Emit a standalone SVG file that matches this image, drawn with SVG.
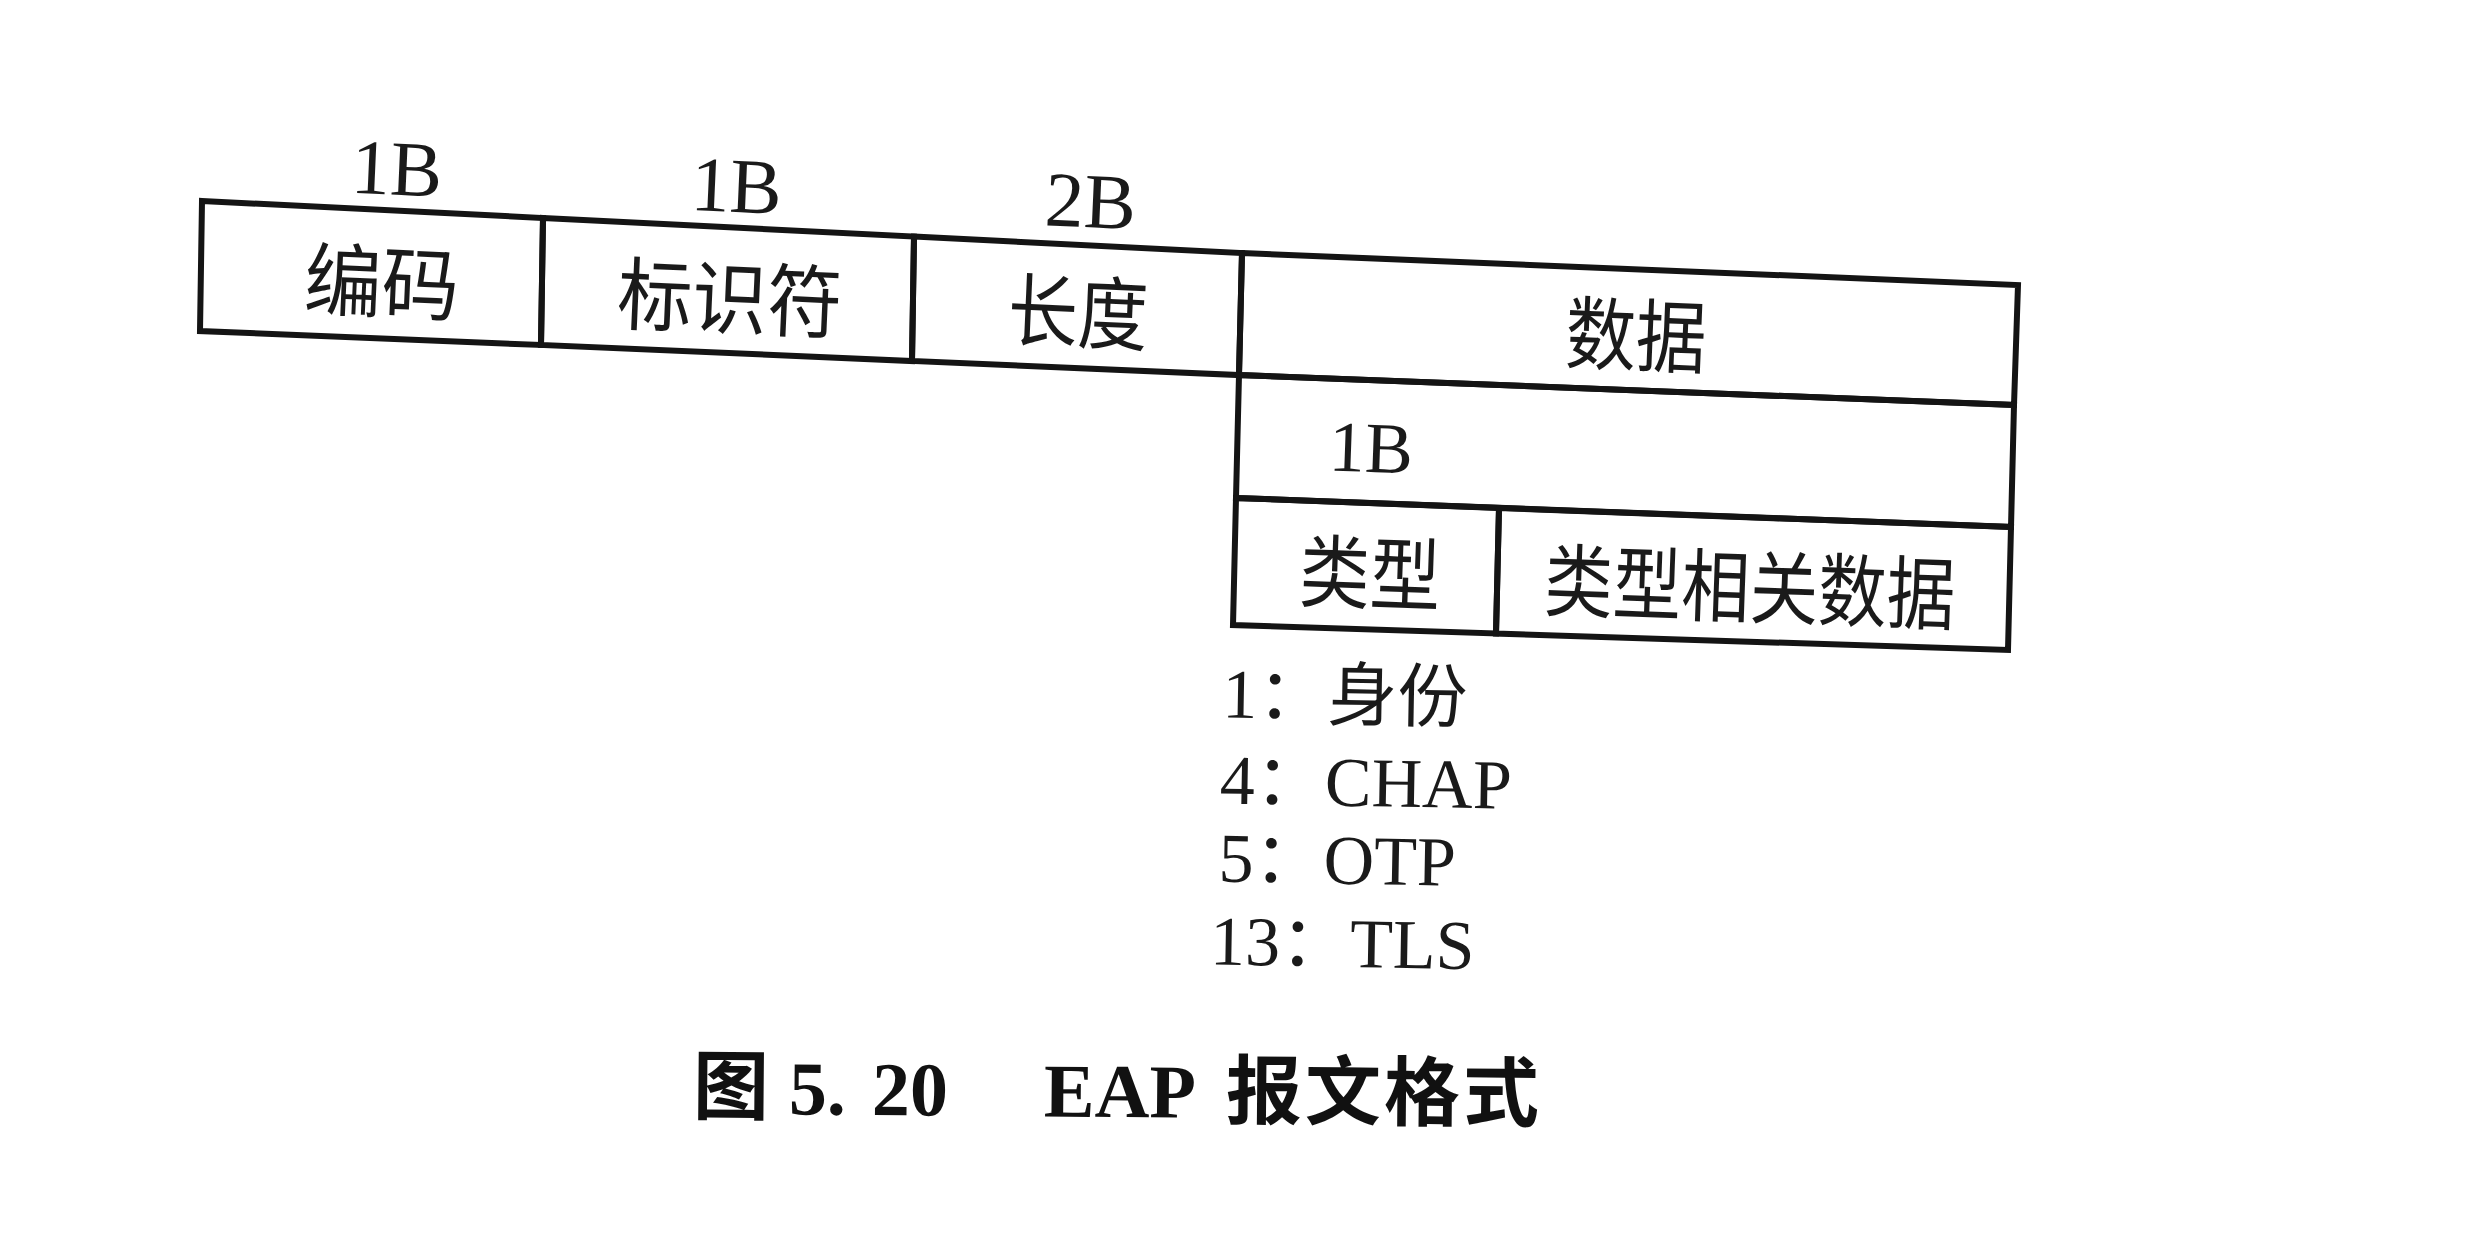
<svg xmlns="http://www.w3.org/2000/svg" width="2477" height="1233" viewBox="0 0 2477 1233">
<style>
.cell{fill:none;stroke:#141414;stroke-width:6;stroke-linejoin:miter}
.cjk{font-family:"Noto Sans CJK SC","Noto Sans CJK JP",sans-serif;font-size:80px;fill:#1a1a1a;text-anchor:middle}
.lat{font-family:"Liberation Serif","Noto Sans CJK SC",serif;font-size:78px;fill:#1a1a1a}
.lat2{font-family:"Liberation Serif","Noto Sans CJK SC",serif;font-size:72px;fill:#1a1a1a}
.mix{font-family:"Liberation Serif","Noto Sans CJK SC",serif;font-size:70px;fill:#1a1a1a}
.cap{font-family:"Liberation Serif","Noto Sans CJK SC",serif;font-size:76px;font-weight:bold;fill:#111}
</style>
<rect width="2477" height="1233" fill="#ffffff"/>
<g id="connectors"/>
<g id="field-code">
<polygon class="cell" points="202,201 543,218 541,345 200,331"/>
<text class="lat" x="351" y="195" transform="rotate(2.5 400 175)">1B</text>
<text class="cjk" x="382" y="312" textLength="155" lengthAdjust="spacingAndGlyphs" transform="rotate(2.5 382 280)">编码</text>
</g>
<g id="field-identifier">
<polygon class="cell" points="543,218 914,236.6 912,361 541,345"/>
<text class="lat" x="691" y="212" transform="rotate(2.5 738 186)">1B</text>
<text class="cjk" x="730" y="328" textLength="225" lengthAdjust="spacingAndGlyphs" transform="rotate(2.5 730 295)">标识符</text>
</g>
<g id="field-length">
<polygon class="cell" points="914,236.6 1242,253 1239,375 912,361"/>
<text class="lat" x="1045" y="227" transform="rotate(2.5 1085 202)">2B</text>
<text class="cjk" x="1078" y="342" textLength="140" lengthAdjust="spacingAndGlyphs" transform="rotate(2.5 1078 311)">长度</text>
</g>
<g id="field-data">
<polygon class="cell" points="1242,253 2018,285 2014,405 1239,375"/>
<text class="cjk" x="1636" y="365" textLength="141" lengthAdjust="spacingAndGlyphs" transform="rotate(2.3 1636 336)">数据</text>
</g>
<g id="data-size">
<polygon class="cell" points="1239,375 2014,405 2011,527 1236,498"/>
<text class="lat2" x="1329" y="472" transform="rotate(2 1372 450)">1B</text>
</g>
<g id="field-type">
<polygon class="cell" points="1236,498 1499,508 1496,633.5 1233,625"/>
<text class="cjk" x="1370" y="603" textLength="141" lengthAdjust="spacingAndGlyphs" transform="rotate(2 1370 573)">类型</text>
</g>
<g id="field-type-data">
<polygon class="cell" points="1499,508 2011,527 2008,650 1496,633.5"/>
<text class="cjk" x="1750" y="617" textLength="411" lengthAdjust="spacingAndGlyphs" transform="rotate(2 1750 585)">类型相关数据</text>
</g>
<g id="type-values" transform="rotate(1 1300 840)">
<text class="mix" x="1220" y="719">1：身份</text>
<text class="mix" x="1219" y="805">4：CHAP</text>
<text class="mix" x="1219" y="883">5：OTP</text>
<text class="mix" x="1212" y="966">13：TLS</text>
</g>
<g id="caption" transform="rotate(0.5 1110 1090)">
<text class="cap" x="693" y="1117">图 <tspan x="789">5.</tspan><tspan x="872">20 </tspan><tspan x="1044">EAP </tspan><tspan x="1226" letter-spacing="3">报文格式</tspan></text>
</g>
</svg>
